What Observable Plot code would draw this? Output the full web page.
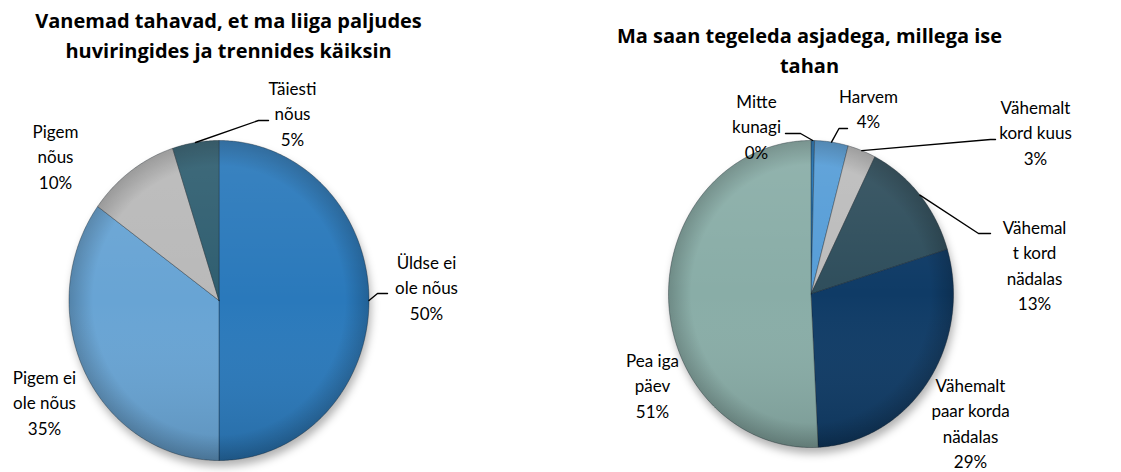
<!DOCTYPE html>
<html><head><meta charset="utf-8">
<script src="https://cdn.jsdelivr.net/npm/d3@7"></script>
<script src="https://cdn.jsdelivr.net/npm/@observablehq/plot@0.6"></script>
<style>
html,body{margin:0;padding:0;background:#fff}
#chart{width:1121px;height:472px}
</style>
</head><body><div id="chart"></div>
<script>
// ---------- DATA ----------
const leftTitle = "Vanemad tahavad, et ma liiga paljudes\nhuviringides ja trennides käiksin";
const leftCategories = ["Üldse ei ole nõus", "Pigem ei ole nõus", "Pigem nõus", "Täiesti nõus"];
const leftLabels = ["Üldse ei\nole nõus", "Pigem ei\nole nõus", "Pigem\nnõus", "Täiesti\nnõus"];
const leftValues = [50, 35, 10, 5];

const rightTitle = "Ma saan tegeleda asjadega, millega ise\ntahan";
const rightCategories = ["Mitte kunagi", "Harvem", "Vähemalt kord kuus", "Vähemalt kord nädalas", "Vähemalt paar korda nädalas", "Pea iga päev"];
const rightLabels = ["Mitte\nkunagi", "Harvem", "Vähemalt\nkord kuus", "Vähemal\nt kord\nnädalas", "Vähemalt\npaar korda\nnädalas", "Pea iga\npäev"];
const rightValues = [0.4, 3.8, 3.2, 12.9, 28.9, 50.8];

// ---------- STYLE ----------
const leftColors = ["#2a79bb", "#68a4d4", "#b9b9b9", "#2f5e70"];
const rightColors = ["#2071b3", "#569dd7", "#bcbcbc", "#2f4e5c", "#0f3b66", "#89ada7"];
const labelFont = "Lato, 'Open Sans', sans-serif";
const titleFont = "'Open Sans', Lato, sans-serif";
const labelSize = 17;
const lineGap = 25.5;
const titleSize = 20;

// ---------- LAYOUT ----------
const pies = [
  {id: "L", cx: 218.5, cy: 300, rx: 150, ry: 160, title: leftTitle, titleX: 228, titleY: 57,
   cats: leftCategories, labels: leftLabels, values: leftValues, colors: leftColors,
   labelPos: [[426, 268], [44, 383], [55, 137], [292, 94]],
   leaders: [[377, 293, 387], null, null, [258, 120, 268]]},
  {id: "R", cx: 810.5, cy: 293.5, rx: 142.5, ry: 153.5, title: rightTitle, titleX: 809, titleY: 72,
   cats: rightCategories, labels: rightLabels, values: rightValues, colors: rightColors,
   labelPos: [[756, 107], [868, 102], [1035, 113], [1034, 233], [970, 391], [652, 366]],
   leaders: [[800, 133, 785], [838.5, 128, 847], [990, 139, 995], [978, 233, 990], null, null]}
];

const pct = d3.format(".0%");
const polys = [], rims = [], leaderPts = [], labelRows = [], titleRows = [];
for (const p of pies) {
  const total = d3.sum(p.values);
  const arcs = d3.pie().sort(null).value(d => d)(p.values);
  const pt = a => [p.cx + p.rx * Math.sin(a), p.cy - p.ry * Math.cos(a)];
  arcs.forEach((a, i) => {
    const key = p.cats[i];
    polys.push({key, x: p.cx, y: p.cy});
    const n = Math.max(2, Math.ceil((a.endAngle - a.startAngle) / (Math.PI / 360)));
    for (let k = 0; k <= n; k++) {
      const [x, y] = pt(a.startAngle + (a.endAngle - a.startAngle) * k / n);
      polys.push({key, x, y});
    }
    polys.push({key, x: p.cx, y: p.cy});
    const mid = (a.startAngle + a.endAngle) / 2;
    const lab = p.labelPos[i];
    const nLines = p.labels[i].split("\n").length + 1;
    labelRows.push({x: lab[0], y: lab[1] + (nLines - 1) * lineGap,
      text: p.labels[i] + "\n" + pct(p.values[i] / total)});
    const L = p.leaders[i];
    if (L) {
      const [ax, ay] = pt(mid);
      const id = p.id + i;
      leaderPts.push({id, x: ax, y: ay}, {id, x: L[0], y: L[1]}, {id, x: L[2], y: L[1]});
    }
  });
  for (let k = 0; k <= 360; k++) {
    const [x, y] = pt(k * Math.PI / 180);
    rims.push({id: p.id, x, y, sx: x + 2, sy: y + 6});
  }
  titleRows.push({x: p.titleX, y: p.titleY, text: p.title});
}

const allCats = [...leftCategories, ...rightCategories];
const allColors = [...leftColors, ...rightColors];

const svg = Plot.plot({
  width: 1121, height: 472, margin: 0,
  x: {domain: [0, 1121], range: [0, 1121], axis: null},
  y: {domain: [0, 472], range: [0, 472], axis: null},
  color: {domain: allCats, range: allColors},
  style: {background: "#fff", overflow: "visible"},
  marks: [
    Plot.line(rims, {x: "sx", y: "sy", z: "id", fill: "#000", fillOpacity: 0.3, stroke: "none"}),
    Plot.line(polys, {x: "x", y: "y", z: "key", fill: "key", stroke: "rgba(20,30,40,0.45)", strokeWidth: 0.8}),
    Plot.line(rims, {x: "x", y: "y", z: "id", fill: "url(#rimShade)", stroke: "none"}),
    Plot.line(rims, {x: "x", y: "y", z: "id", fill: "url(#vShade)", stroke: "none"}),
    Plot.line(leaderPts, {x: "x", y: "y", z: "id", stroke: "#000", strokeWidth: 1.4, strokeLinejoin: "miter"}),
    Plot.text(labelRows, {x: "x", y: "y", text: "text", lineAnchor: "bottom", lineHeight: lineGap / labelSize,
      fontSize: labelSize, fontFamily: labelFont, fill: "#000", textAnchor: "middle"}),
    Plot.text(titleRows, {x: "x", y: "y", text: "text", lineAnchor: "bottom", lineHeight: 30 / titleSize,
      fontSize: titleSize, fontWeight: "bold", fontFamily: titleFont, fill: "#000", textAnchor: "middle"})
  ]
});

const ns = "http://www.w3.org/2000/svg";
const defs = document.createElementNS(ns, "defs");
defs.innerHTML = `
  <radialGradient id="rimShade" cx="50%" cy="50%" r="50%">
    <stop offset="0%" stop-color="#000" stop-opacity="0"/>
    <stop offset="84%" stop-color="#000" stop-opacity="0"/>
    <stop offset="100%" stop-color="#000" stop-opacity="0.2"/>
  </radialGradient>
  <linearGradient id="vShade" x1="0" y1="0" x2="0" y2="1">
    <stop offset="0%" stop-color="#fff" stop-opacity="0.08"/>
    <stop offset="50%" stop-color="#fff" stop-opacity="0"/>
    <stop offset="100%" stop-color="#000" stop-opacity="0.12"/>
  </linearGradient>
  <filter id="blur" x="-20%" y="-20%" width="140%" height="140%"><feGaussianBlur stdDeviation="4"/></filter>`;
svg.insertBefore(defs, svg.firstChild);
const groups = svg.querySelectorAll('g[aria-label="line"]');
if (groups.length) groups[0].setAttribute("filter", "url(#blur)");
document.getElementById("chart").appendChild(svg);
</script>
</body></html>
